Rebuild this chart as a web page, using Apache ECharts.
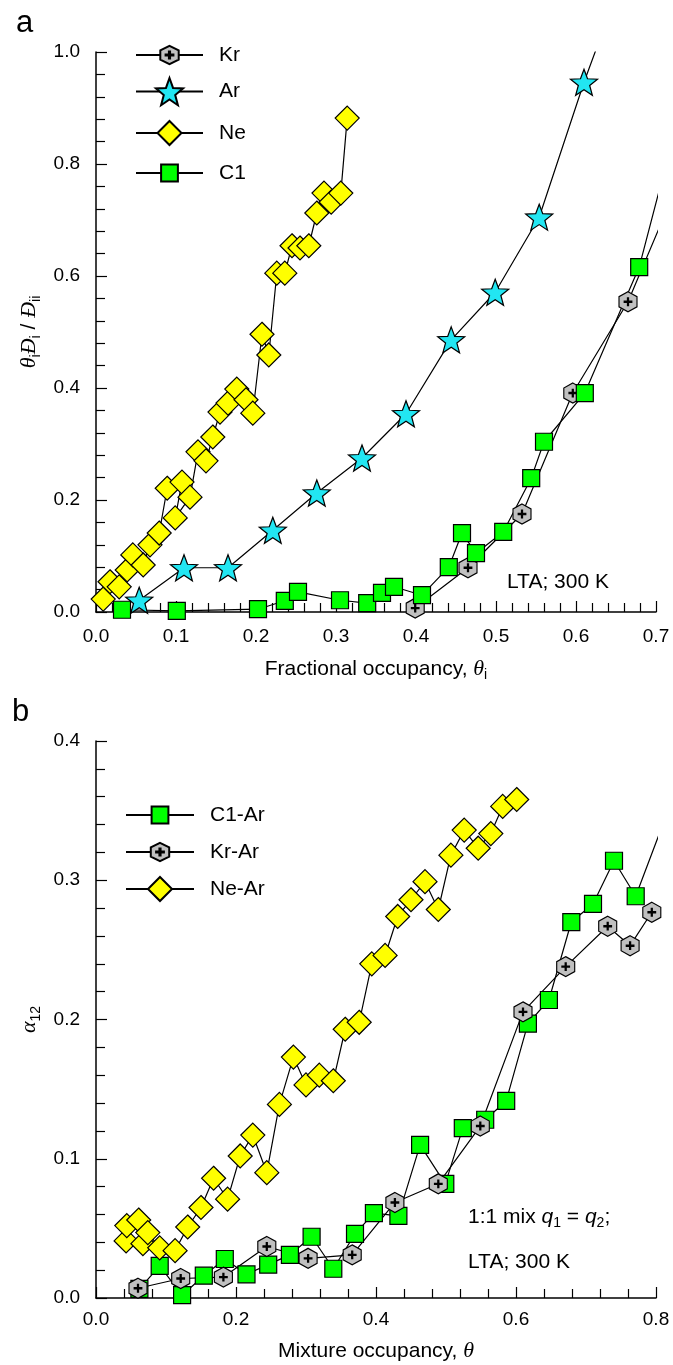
<!DOCTYPE html>
<html>
<head>
<meta charset="utf-8">
<script src="https://cdn.jsdelivr.net/npm/echarts@6/dist/echarts.min.js"></script>
<style>
  html, body { margin: 0; padding: 0; background: #fff; }
  #chart { width: 673px; height: 1365px; }
</style>
</head>
<body>
<div id="chart"></div>
<script>
// ---- Panel a: θi·Đi/Đii versus fractional occupancy θi (LTA, 300 K) ----
// The last Kr, Ar and C1 points lie beyond the axis range; only the
// connecting segment towards them is visible inside the plot.
const krTheta = [0.399, 0.465, 0.5325, 0.596, 0.665, 0.72];
const krValue = [0.007, 0.079, 0.175, 0.391, 0.554, 0.74];

const arTheta = [0.054, 0.110, 0.165, 0.221, 0.276, 0.3325, 0.3875, 0.444, 0.499, 0.554, 0.610, 0.66];
const arValue = [0.021, 0.079, 0.079, 0.146, 0.2125, 0.275, 0.354, 0.486, 0.571, 0.705, 0.946, 1.14];

const neTheta = [0.009, 0.0175, 0.029, 0.039, 0.046, 0.059, 0.0675, 0.079, 0.089, 0.1075, 0.099, 0.1175,
                 0.1275, 0.1375, 0.146, 0.155, 0.165, 0.176, 0.1875, 0.196, 0.2075, 0.216, 0.226, 0.236,
                 0.245, 0.255, 0.266, 0.276, 0.285, 0.294, 0.306, 0.314];
const neValue = [0.023, 0.054, 0.045, 0.075, 0.102, 0.084, 0.120, 0.141, 0.221, 0.232, 0.168, 0.205,
                 0.286, 0.270, 0.3125, 0.357, 0.373, 0.398, 0.379, 0.355, 0.496, 0.459, 0.605, 0.605,
                 0.654, 0.650, 0.654, 0.7125, 0.748, 0.732, 0.748, 0.882];

const c1Theta = [0.0325, 0.101, 0.2025, 0.236, 0.2525, 0.305, 0.339, 0.3575, 0.3725, 0.4075, 0.441,
                 0.4575, 0.475, 0.509, 0.544, 0.56, 0.611, 0.679, 0.72];
const c1Value = [0.004, 0.002, 0.005, 0.020, 0.036, 0.021, 0.016, 0.034, 0.045, 0.030, 0.080,
                 0.141, 0.105, 0.143, 0.239, 0.304, 0.391, 0.616, 0.84];

// ---- Panel b: thermodynamic correction α12 versus mixture occupancy θ ----
const c1ArTheta = [0.062, 0.091, 0.123, 0.154, 0.184, 0.215, 0.246, 0.277, 0.308, 0.339, 0.370, 0.397,
                   0.432, 0.463, 0.499, 0.524, 0.556, 0.586, 0.617, 0.647, 0.679, 0.710, 0.740, 0.771, 0.83];
const c1ArValue = [0.0065, 0.023, 0.002, 0.016, 0.028, 0.017, 0.024, 0.031, 0.044, 0.021, 0.046, 0.061,
                   0.059, 0.110, 0.082, 0.122, 0.128, 0.1415, 0.197, 0.214, 0.270, 0.283, 0.314, 0.2885, 0.367];

const krArTheta = [0.060, 0.121, 0.182, 0.244, 0.303, 0.366, 0.427, 0.489, 0.549, 0.610, 0.671, 0.731, 0.763, 0.794];
const krArValue = [0.007, 0.014, 0.015, 0.037, 0.0285, 0.031, 0.0686, 0.082, 0.1235, 0.2055, 0.238, 0.267, 0.253, 0.277];

const neArTheta = [0.043, 0.044, 0.061, 0.067, 0.074, 0.091, 0.113, 0.131, 0.150, 0.168, 0.188, 0.206,
                   0.224, 0.244, 0.262, 0.282, 0.300, 0.319, 0.339, 0.356, 0.376, 0.394, 0.413, 0.431,
                   0.450, 0.470, 0.489, 0.507, 0.526, 0.546, 0.564, 0.581, 0.601];
const neArValue = [0.041, 0.052, 0.056, 0.039, 0.047, 0.036, 0.034, 0.051, 0.065, 0.086, 0.071, 0.102,
                   0.117, 0.090, 0.139, 0.173, 0.153, 0.160, 0.156, 0.193, 0.198, 0.240, 0.246, 0.274,
                   0.286, 0.299, 0.279, 0.318, 0.336, 0.323, 0.3335, 0.353, 0.358];

// Axis ranges and tick steps
const axisA = { xMax: 0.7, xStep: 0.1, yMax: 1.0, yStep: 0.2 };
const axisB = { xMax: 0.8, xStep: 0.2, yMax: 0.4, yStep: 0.1 };

const SANS = "'Liberation Sans', Arial, Helvetica, sans-serif";
const SERIF = "'Liberation Serif', 'DejaVu Serif', serif";

// Marker shapes: pointy-top hexagon with a plus, and a five-pointed star
const HEX_PLUS = 'path://M8 0L16 4.5L16 13.5L8 18L0 13.5L0 4.5Z' +
  'M7.5 5.6L8.5 5.6L8.5 8.5L11.4 8.5L11.4 9.5L8.5 9.5L8.5 12.4L7.5 12.4L7.5 9.5L4.6 9.5L4.6 8.5L7.5 8.5Z';
const STAR = 'path://M10 0L12.469 6.602L19.511 6.910L13.994 11.298L15.878 18.090L10 14.2' +
  'L4.122 18.090L6.006 11.298L0.489 6.910L7.531 6.602Z';

const zip = (xs, ys) => xs.map((x, i) => [x, ys[i]]);

const rich = {
  it: { fontFamily: SERIF, fontStyle: 'italic', fontSize: 22, lineHeight: 26, verticalAlign: 'middle', color: '#000' },
  sub: { fontFamily: SANS, fontSize: 14, lineHeight: 14, verticalAlign: 'bottom', color: '#000' },
  txt: { fontFamily: SANS, fontSize: 21, lineHeight: 26, verticalAlign: 'middle', color: '#000' }
};

function valueAxis(grid, max, step, labelMargin, extra) {
  return Object.assign({
    type: 'value', gridIndex: grid, min: 0, max: max, interval: step,
    axisLine: { show: true, onZero: false, lineStyle: { color: '#000', width: 1.5 } },
    axisTick: { show: true, inside: true, length: 11, lineStyle: { color: '#000', width: 1.2 } },
    minorTick: { show: true, splitNumber: 5, length: 9, lineStyle: { color: '#000', width: 1.2 } },
    splitLine: { show: false },
    minorSplitLine: { show: false },
    axisLabel: {
      color: '#000', fontFamily: SANS, fontSize: 19, margin: labelMargin,
      formatter: v => v.toFixed(1)
    },
    nameLocation: 'middle',
    nameTextStyle: { color: '#000', fontFamily: SANS, fontSize: 21, lineHeight: 26, rich: rich }
  }, extra);
}

function lineSeries(name, xi, data, symbol, size, fill) {
  return {
    name: name, type: 'line', xAxisIndex: xi, yAxisIndex: xi, data: data,
    symbol: symbol, symbolSize: size, showAllSymbol: true, clip: true,
    lineStyle: { color: '#000', width: 1.2 },
    itemStyle: { color: fill, borderColor: '#000', borderWidth: 1.2 },
    emphasis: { disabled: true },
    z: 3
  };
}

function legendItem(name, left, centerY, itemHeight, itemWidth) {
  return {
    data: [name], left: left, top: centerY - itemHeight / 2, padding: 0,
    itemWidth: itemWidth, itemHeight: itemHeight, selectedMode: false,
    textStyle: { color: '#000', fontFamily: SANS, fontSize: 21, padding: [0, 0, 0, 11] }
  };
}

const chart = echarts.init(document.getElementById('chart'), null, { renderer: 'canvas' });

chart.setOption({
  animation: false,
  backgroundColor: '#fff',
  grid: [
    { left: 96, top: 52, width: 560, height: 560 },
    { left: 96, top: 741, width: 560, height: 560 }
  ],
  xAxis: [
    valueAxis(0, axisA.xMax, axisA.xStep, 15, {
      name: 'Fractional occupancy, {it|θ}{sub|i}', nameGap: 44
    }),
    valueAxis(1, axisB.xMax, axisB.xStep, 12, {
      name: 'Mixture occupancy, {it|θ}', nameGap: 40
    })
  ],
  yAxis: [
    valueAxis(0, axisA.yMax, axisA.yStep, 16, {
      name: '{it|θ}{sub|i}{it|Đ}{sub|i} / {it|Đ}{sub|ii}', nameGap: 52, nameRotate: 90
    }),
    valueAxis(1, axisB.yMax, axisB.yStep, 16, {
      name: '{it|α}{sub|12}', nameGap: 52, nameRotate: 90
    })
  ],
  legend: [
    legendItem('Kr', 135, 56, 23, 67),
    legendItem('Ar', 135, 94, 34, 67),
    legendItem('Ne', 135, 135, 30, 67),
    legendItem('C1', 135, 173, 21, 67),
    legendItem('C1-Ar', 125, 815, 21, 68),
    legendItem('Kr-Ar', 125, 853, 23, 68),
    legendItem('Ne-Ar', 125, 891, 30, 68)
  ],
  series: [
    lineSeries('Kr', 0, zip(krTheta, krValue), HEX_PLUS, [18, 20], '#C0C0C0'),
    lineSeries('Ar', 0, zip(arTheta, arValue), STAR, [27, 26], '#22E6F2'),
    lineSeries('Ne', 0, zip(neTheta, neValue), 'diamond', 24, '#FFFF00'),
    lineSeries('C1', 0, zip(c1Theta, c1Value), 'rect', 17, '#00FF00'),
    lineSeries('C1-Ar', 1, zip(c1ArTheta, c1ArValue), 'rect', 17, '#00FF00'),
    lineSeries('Kr-Ar', 1, zip(krArTheta, krArValue), HEX_PLUS, [18, 20], '#C0C0C0'),
    lineSeries('Ne-Ar', 1, zip(neArTheta, neArValue), 'diamond', 24, '#FFFF00')
  ],
  graphic: [
    { type: 'text', left: 16, top: 8, style: { text: 'a', fontFamily: SANS, fontSize: 31, fill: '#000' } },
    { type: 'text', left: 12, top: 697, style: { text: 'b', fontFamily: SANS, fontSize: 31, fill: '#000' } },
    { type: 'text', left: 507, top: 572, style: { text: 'LTA; 300 K', fontFamily: SANS, fontSize: 21, fill: '#000' } },
    {
      type: 'text', left: 468, top: 1207,
      style: {
        text: '{txt|1:1 mix }{q|q}{sub|1}{txt| = }{q|q}{sub|2}{txt|;}',
        fontFamily: SANS, fontSize: 21, fill: '#000',
        rich: {
          txt: { fontFamily: SANS, fontSize: 21, lineHeight: 26, verticalAlign: 'middle' },
          q: { fontFamily: SANS, fontStyle: 'italic', fontSize: 21, lineHeight: 26, verticalAlign: 'middle' },
          sub: { fontFamily: SANS, fontSize: 14, lineHeight: 14, verticalAlign: 'bottom' }
        }
      }
    },
    { type: 'text', left: 468, top: 1252, style: { text: 'LTA; 300 K', fontFamily: SANS, fontSize: 21, fill: '#000' } }
  ]
});
</script>
</body>
</html>
